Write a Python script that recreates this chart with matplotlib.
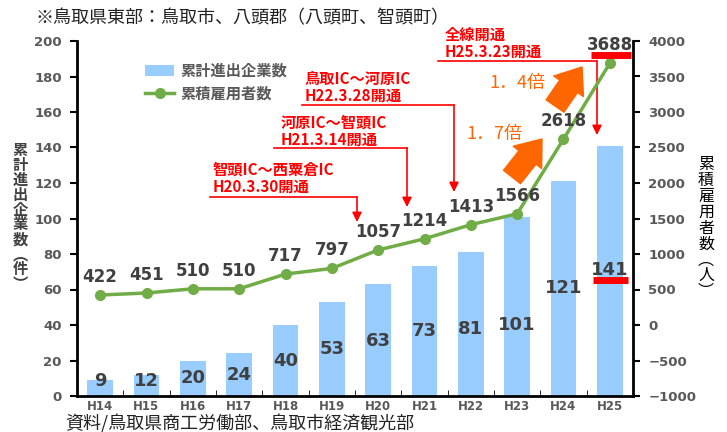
import matplotlib
matplotlib.use('Agg')
import matplotlib.pyplot as plt
from matplotlib.lines import Line2D
from matplotlib.patches import Patch
import numpy as np

# data
years = ['H14', 'H15', 'H16', 'H17', 'H18', 'H19', 'H20', 'H21', 'H22', 'H23', 'H24', 'H25']
companies = [9, 12, 20, 24, 40, 53, 63, 73, 81, 101, 121, 141]
employees = [422, 451, 510, 510, 717, 797, 1057, 1214, 1413, 1566, 2618, 3688]

# where the count labels sit inside the bars (left-axis units)
bar_label_y = [8.5, 8.5, 10, 12, 20, 26.5, 31, 36.5, 37.5, 40, 61, 71]

JP = ['Noto Sans CJK JP', 'DejaVu Sans']
NUM = 'DejaVu Sans'
GRAY = '#595959'
DARK = '#404040'
RED = '#FF0000'
ORANGE = '#FF6600'

W, H = 727, 432
fig = plt.figure(figsize=(W / 100, H / 100), dpi=100)


def fx(x):
    return x / W


def fy(y):
    return 1 - y / H


ax = fig.add_axes([fx(77), fy(396), fx(633) - fx(77), fy(41) - fy(396)])
ax2 = ax.twinx()

x = np.arange(len(years))
ax.bar(x, companies, width=0.56, color='#99CCFF', zorder=2)
for xi, v, ly in zip(x, companies, bar_label_y):
    ax.text(xi, ly, str(v), ha='center', va='center', fontsize=13,
            fontweight='bold', color=DARK, family=NUM, zorder=5)

ax2.plot(x, employees, color='#70AD47', lw=2.5, marker='o', ms=7, zorder=3)
for xi, v in zip(x, employees):
    ax2.annotate(str(v), (xi, v), xytext=(0, 13), textcoords='offset points',
                 ha='center', va='center', fontsize=12, fontweight='bold',
                 color=DARK, family=NUM)

ax.set_xlim(-0.5, len(years) - 0.5)
ax.set_ylim(0, 200)
ax2.set_ylim(-1000, 4000)
ax.set_yticks(np.arange(0, 201, 20))
ax2.set_yticks(np.arange(-1000, 4001, 500))
ax2.set_yticklabels([str(v).replace('-', '\u2212') for v in range(-1000, 4001, 500)])
ax.set_xticks(x)
ax.set_xticklabels(years)
ax.set_xticks(np.arange(0.5, len(years) - 1, 1), minor=True)
ax.tick_params(axis='x', which='major', length=0, pad=3)
ax.tick_params(axis='x', which='minor', length=4, direction='in', color='black')

for a in (ax, ax2):
    for s in a.spines.values():
        s.set_linewidth(2)
    a.spines['top'].set_visible(False)
ax.spines['right'].set_visible(False)
ax2.spines['left'].set_visible(False)
ax2.spines['bottom'].set_visible(False)
ax.tick_params(axis='y', length=5, width=1.5, pad=6)
ax2.tick_params(axis='y', length=5, width=1.5, pad=6)
for lab in ax.get_yticklabels() + ax2.get_yticklabels():
    lab.set_fontsize(9.5)
    lab.set_fontweight('bold')
    lab.set_color(GRAY)
    lab.set_family(NUM)
for lab in ax.get_xticklabels():
    lab.set_fontsize(8.5)
    lab.set_fontweight('bold')
    lab.set_color(GRAY)
    lab.set_family(NUM)

# legend
handles = [Patch(facecolor='#99CCFF', edgecolor='none'),
           Line2D([], [], color='#70AD47', lw=2.5, marker='o', ms=7)]
leg = fig.legend(handles, ['累計進出企業数', '累積雇用者数'], loc='upper left',
                 bbox_to_anchor=(fx(145), fy(63)), frameon=False,
                 prop={'family': JP, 'size': 11, 'weight': 'bold'},
                 handlelength=1.9, handletextpad=0.4, labelspacing=0.4,
                 borderpad=0, borderaxespad=0)
for t in leg.get_texts():
    t.set_color(GRAY)

# title, source and axis labels
fig.text(fx(35), fy(18), '※鳥取県東部：鳥取市、八頭郡（八頭町、智頭町）',
         fontsize=13, family=JP, va='center', ha='left', color='#222222')
fig.text(fx(65), fy(423.5), '資料/鳥取県商工労働部、鳥取市経済観光部',
         fontsize=13, family=JP, va='center', ha='left', color='#222222')
fig.text(fx(20), fy(217), '\n'.join('累計進出企業数︵件︶'), fontsize=11,
         fontweight='bold', family=JP, va='center', ha='center', color=DARK,
         linespacing=0.92)
fig.text(fx(706), fy(228), '\n'.join('累積雇用者数︵人︶'), fontsize=11.5,
         family=JP, va='center', ha='center', color='black', linespacing=0.92)

# red road-opening callouts: text lines, underline x-range, arrow tip y
callouts = [
    ('智頭IC～西粟倉IC', 'H20.3.30開通', 213, 170, 210, 357, 197, 222),
    ('河原IC～智頭IC', 'H21.3.14開通', 281, 123, 274, 407, 148, 207),
    ('鳥取IC～河原IC', 'H22.3.28開通', 305, 79, 302, 454, 105, 192),
    ('全線開通', 'H25.3.23開通', 445, 35, 438, 597, 61, 135),
]
for l1, l2, tx, ty, x0, x1, uy, tip in callouts:
    fig.text(fx(tx), fy(ty), l1, fontsize=11, fontweight='bold', color=RED,
             family=JP, va='center', ha='left')
    fig.text(fx(tx), fy(ty + 17), l2, fontsize=11, fontweight='bold', color=RED,
             family=JP, va='center', ha='left')
    fig.add_artist(Line2D([fx(x0), fx(x1)], [fy(uy), fy(uy)], color=RED, lw=1.2,
                          transform=fig.transFigure))
    ax.annotate('', xy=(fx(x1), fy(tip)), xytext=(fx(x1), fy(uy)),
                xycoords='figure fraction', textcoords='figure fraction',
                arrowprops=dict(arrowstyle='-|>', color=RED, lw=1.2,
                                mutation_scale=14, shrinkA=0, shrinkB=0))

# red highlight marks under 3688 and 141
for x0, x1, y in [(591, 631, 55), (593, 628, 280)]:
    fig.add_artist(Line2D([fx(x0), fx(x1)], [fy(y), fy(y)], color=RED, lw=5,
                          transform=fig.transFigure, solid_capstyle='butt',
                          zorder=10))

# orange growth arrows
for (t0, t1), label, lx, ly in [(((512, 177), (542, 139)), '1．7倍', 494, 134),
                                (((555, 106), (582, 67)), '1．4倍', 517, 83)]:
    ax.annotate('', xy=(fx(t1[0]), fy(t1[1])), xytext=(fx(t0[0]), fy(t0[1])),
                xycoords='figure fraction', textcoords='figure fraction',
                arrowprops=dict(arrowstyle='simple,head_length=0.65,head_width=1.0,tail_width=0.6',
                                color=ORANGE, mutation_scale=26, shrinkA=0, shrinkB=0),
                zorder=6)
    fig.text(fx(lx), fy(ly), label, fontsize=13, color=ORANGE, family=JP,
             ha='center', va='center')

fig.savefig('out.png', dpi=100)
